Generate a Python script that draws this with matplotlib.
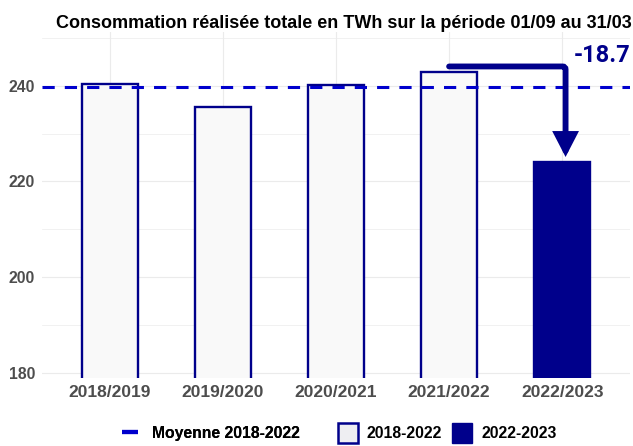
import numpy as np
import matplotlib
matplotlib.use("Agg")
import matplotlib.pyplot as plt
from matplotlib.lines import Line2D
from matplotlib.patches import Patch

plt.rcParams["font.family"] = ["Liberation Sans", "DejaVu Sans"]

# donnees (TWh, periode 01/09 -> 31/03)
saisons = ["2018/2019", "2019/2020", "2020/2021", "2021/2022", "2022/2023"]
conso = [240.3, 235.6, 240.1, 242.8, 224.1]
y_ticks = [180, 200, 220, 240]

navy = "#00008B"
blue = "#0000CD"
grey_txt = "#4D4D4D"

moyenne = np.mean(conso[:4])          # moyenne 2018-2022
ecart = conso[4] - conso[3]           # ecart avec la saison precedente

fig = plt.figure(figsize=(6.33, 4.46), dpi=100)
ax = fig.add_axes([0.0664, 0.1525, 0.9289, 0.7758])

x = np.arange(len(saisons))
fills = ["#F9F9F9"] * 4 + [navy]
ax.bar(x, conso, width=0.5, color=fills, edgecolor=navy, linewidth=1.7, zorder=2)

# ligne de la moyenne
ax.axhline(moyenne, color=blue, linewidth=2.2, linestyle=(0, (4, 3.3)), zorder=3)

# fleche entre 2021/2022 et 2022/2023
ax.annotate("", xy=(4.03, conso[4] + 1.0), xytext=(3.0, conso[3] + 1.2),
            arrowprops=dict(arrowstyle="-|>,head_length=12,head_width=6.2",
                            connectionstyle="angle,angleA=0,angleB=90,rad=3",
                            mutation_scale=1, lw=4.2, color=navy,
                            shrinkA=0, shrinkB=0, joinstyle="miter"),
            zorder=4)
ax.text(1.0, 246.3, f"{ecart:.1f}", transform=ax.get_yaxis_transform(),
        ha="right", va="center", fontsize=17, fontweight="bold",
        family="Roboto", color=navy)

ax.set_xlim(-0.6, 4.6)
ax.set_ylim(178.96, 251.2)
ax.set_xticks(x)
ax.set_xticklabels(saisons, fontsize=12.5, fontweight="bold", color=grey_txt)
ax.set_yticks(y_ticks)
ax.set_yticklabels([str(v) for v in y_ticks], fontsize=11.3, fontweight="bold", color=grey_txt)
ax.set_yticks([190, 210, 230, 250], minor=True)
ax.tick_params(length=0, pad=5)
ax.tick_params(which="minor", length=0)
ax.grid(True, which="major", color="#EBEBEB", linewidth=0.8, zorder=0)
ax.grid(True, which="minor", axis="y", color="#EBEBEB", linewidth=0.5, zorder=0)
ax.set_axisbelow(True)
for s in ax.spines.values():
    s.set_visible(False)

fig.text(0.543, 0.948, "Consommation réalisée totale en TWh sur la période 01/09 au 31/03",
         ha="center", va="center", fontsize=13, fontweight="bold", color="black")

# legendes
h_moy = Line2D([], [], color=blue, marker="_", markersize=11, markeredgewidth=3, linestyle="none")
leg1 = fig.legend([h_moy], ["Moyenne 2018-2022"], loc="center left",
                  bbox_to_anchor=(122.2 / 633, 0.029), frameon=False, borderpad=0,
                  borderaxespad=0, handlelength=1.0, handletextpad=0.9,
                  prop=dict(size=11.3, weight="bold"))
h_a = Patch(facecolor="#EEEEF2", edgecolor=navy, linewidth=1.8)
h_b = Patch(facecolor=navy, edgecolor=navy)
leg2 = fig.legend([h_a, h_b], ["2018-2022", "2022-2023"], loc="center left", ncol=2,
                  bbox_to_anchor=(338 / 633, 0.029), frameon=False, borderpad=0,
                  borderaxespad=0, handlelength=1.27, handleheight=1.58,
                  handletextpad=0.57, columnspacing=0.64,
                  prop=dict(size=11.3, weight="bold"))
fig.add_artist(leg1)

fig.savefig("out.png", dpi=100)
